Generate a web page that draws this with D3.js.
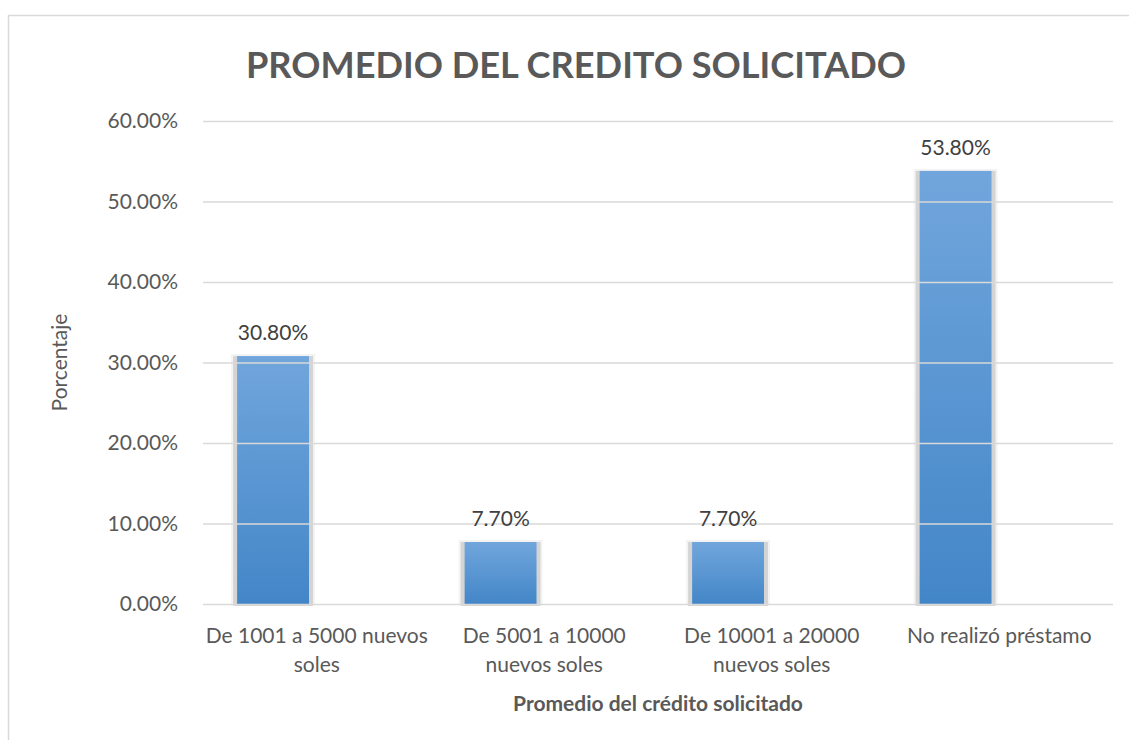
<!DOCTYPE html>
<html>
<head>
<meta charset="utf-8">
<script src="https://cdn.jsdelivr.net/npm/d3@7"></script>
<style>
    body { margin: 0; background: #fff; }
    svg { display: block; font-family: Lato, "Open Sans", sans-serif; }
</style>
</head>
<body>
<svg id="chart" width="1129" height="740"></svg>
<script>
'use strict';

const categories = [
    'De 1001 a 5000 nuevos soles',
    'De 5001 a 10000 nuevos soles',
    'De 10001 a 20000 nuevos soles',
    'No realizó préstamo'
];
const values = [30.8, 7.7, 7.7, 53.8];
const yTicks = [0, 10, 20, 30, 40, 50, 60];

const chartTitle = 'PROMEDIO DEL CREDITO SOLICITADO';
const xTitle = 'Promedio del crédito solicitado';
const yTitle = 'Porcentaje';

const FONT = 'Lato, "Open Sans", sans-serif';
const svg = d3.select('#chart');
const plot = {left: 203, right: 1113, top: 121, bottom: 604};

// outer chart border (cut off by the picture on right and bottom)
svg.append('rect')
    .attr('x', 8.5).attr('y', 15.5)
    .attr('width', 1140).attr('height', 760)
    .attr('fill', '#fff')
    .attr('stroke', '#d9d9d9')
    .attr('stroke-width', 1.5);

const defs = svg.append('defs');
const grad = defs.append('linearGradient')
    .attr('id', 'barFill')
    .attr('x1', 0).attr('y1', 0).attr('x2', 0).attr('y2', 1);
grad.append('stop').attr('offset', '0%').attr('stop-color', '#71a6dc');
grad.append('stop').attr('offset', '100%').attr('stop-color', '#4386c8');

const xScale = d3.scaleBand()
    .domain(categories)
    .range([plot.left, plot.right]);

const yScale = d3.scaleLinear()
    .domain([0, 60])
    .range([plot.bottom, plot.top]);

// bars sit in the left slot of each category (second series is empty)
const barX = d => xScale(d) + xScale.bandwidth() * 0.15;
const barW = xScale.bandwidth() * 0.316;

const bars = svg.append('g').attr('class', 'bars');
categories.forEach((c, i) => {
    const y = yScale(values[i]);
    const h = plot.bottom - y;
    // soft shadow around the bar
    bars.append('rect')
        .attr('x', barX(c) - 6).attr('y', y - 2)
        .attr('width', barW + 12).attr('height', h + 2)
        .attr('fill', '#f3f3f3');
    bars.append('rect')
        .attr('x', barX(c) - 4).attr('y', y)
        .attr('width', barW + 8).attr('height', h + 2)
        .attr('fill', '#d4d4d4');
    bars.append('rect')
        .attr('x', barX(c)).attr('y', y)
        .attr('width', barW).attr('height', h)
        .attr('fill', 'url(#barFill)');
});

// gridlines on top of bars, like the original
const yAxis = d3.axisLeft(yScale)
    .tickValues(yTicks)
    .tickSize(-(plot.right - plot.left))
    .tickPadding(25)
    .tickFormat(d => d.toFixed(2) + '%');

const yG = svg.append('g')
    .attr('transform', `translate(${plot.left},0)`)
    .call(yAxis)
    .attr('font-family', FONT)
    .attr('font-size', 21);
yG.select('.domain').remove();
yG.selectAll('.tick line')
    .attr('stroke', '#d9d9d9')
    .attr('stroke-width', 1.5);
yG.selectAll('.tick text')
    .attr('fill', '#595959');

// data labels
svg.append('g').selectAll('text')
    .data(categories)
    .join('text')
    .attr('x', d => barX(d) + barW / 2)
    .attr('y', (d, i) => yScale(values[i]) - 16)
    .attr('text-anchor', 'middle')
    .attr('fill', '#404040')
    .style('font-size', '21px')
    .text((d, i) => values[i].toFixed(2) + '%');

// category labels, wrapped to the band width
const catG = svg.append('g');
categories.forEach(c => {
    const t = catG.append('text')
        .attr('x', xScale(c) + xScale.bandwidth() / 2)
        .attr('y', 643)
        .attr('text-anchor', 'middle')
        .attr('fill', '#595959')
        .style('font-size', '21px');
    const words = c.split(' ');
    let line = [];
    let tspan = t.append('tspan').attr('x', t.attr('x')).attr('dy', 0);
    words.forEach(w => {
        line.push(w);
        tspan.text(line.join(' '));
        if (tspan.node().getComputedTextLength() > xScale.bandwidth() - 2 && line.length > 1) {
            line.pop();
            tspan.text(line.join(' '));
            line = [w];
            tspan = t.append('tspan').attr('x', t.attr('x')).attr('dy', 29).text(w);
        }
    });
});

// titles
svg.append('text')
    .attr('x', 576).attr('y', 78)
    .attr('text-anchor', 'middle')
    .attr('fill', '#595959')
    .style('font-size', '36.2px')
    .style('font-weight', 'bold')
    .text(chartTitle);

svg.append('text')
    .attr('x', (plot.left + plot.right) / 2).attr('y', 711)
    .attr('text-anchor', 'middle')
    .attr('fill', '#595959')
    .style('font-size', '21px')
    .style('font-weight', 'bold')
    .text(xTitle);

svg.append('text')
    .attr('transform', `translate(67,${(plot.top + plot.bottom) / 2}) rotate(-90)`)
    .attr('text-anchor', 'middle')
    .attr('fill', '#595959')
    .style('font-size', '21px')
    .text(yTitle);
</script>
</body>
</html>
